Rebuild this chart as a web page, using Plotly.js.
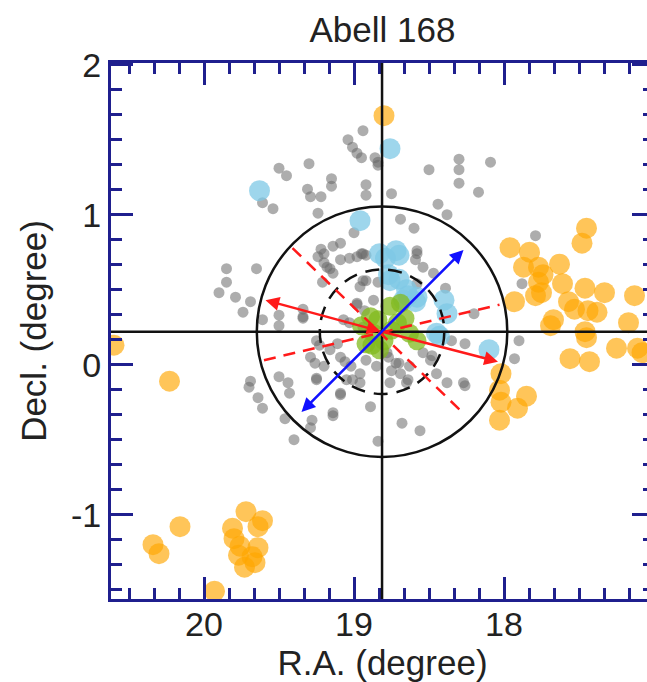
<!DOCTYPE html>
<html>
<head>
<meta charset="utf-8">
<script src="https://cdn.plot.ly/plotly-3.0.1.min.js"></script>
<style>
html,body{margin:0;padding:0;overflow:hidden;background:#fff;}
#chart{width:660px;height:682px;}
</style>
</head>
<body>
<div id="chart"></div>
<script>
// ---- data (R.A., Decl. in degrees) ----
const greyRA = [18.94,19.04,19.01,18.98,18.95,18.86,18.84,19.30,19.50,19.45,19.15,19.15,19.31,19.29,19.22,18.92,18.92,19.61,19.54,19.24,
  19.00,19.09,19.22,19.24,19.20,19.16,19.14,18.95,18.92,19.03,19.85,19.85,19.90,19.79,19.65,19.21,18.94,18.84,19.74,19.69,
  19.61,19.50,19.50,19.34,19.34,18.98,18.93,18.84,18.50,18.30,18.30,18.30,18.09,18.17,18.75,18.44,18.38,18.69,18.60,18.58,
  18.59,17.79,17.88,18.39,18.20,18.26,18.68,18.56,17.93,17.90,18.84,18.75,18.64,18.77,18.70,18.48,18.35,18.26,19.69,19.70,
  19.64,19.61,19.50,19.44,19.43,19.29,19.26,19.25,19.23,19.09,19.14,19.28,19.29,19.46,19.40,19.06,19.02,19.11,19.01,18.96,
  19.20,19.14,19.09,19.18,18.98,18.94,18.92,18.96,18.98,18.87,18.58,18.54,18.58,18.47,19.07,19.03,18.94,19.34,19.25,19.16,
  19.09,19.20,19.25,19.09,19.05,18.96,18.92,18.85,18.78,18.72,18.69,18.76,18.65,18.63,18.54,18.49,18.45,18.38,18.27,19.14,18.89];
const greyDec = [1.56,1.50,1.45,1.41,1.38,1.38,1.33,1.34,1.31,1.26,1.24,1.19,1.17,1.12,1.12,1.20,1.13,1.08,1.04,1.01,
  0.88,0.81,0.77,0.72,0.68,0.64,0.61,0.74,0.73,0.71,0.64,0.55,0.48,0.45,0.64,0.55,0.56,0.55,0.35,0.42,
  0.30,0.33,0.26,0.37,0.31,0.40,0.36,1.35,1.30,1.37,1.30,1.21,1.35,1.15,1.14,1.07,1.00,0.97,0.91,0.76,
  0.70,0.86,0.54,0.51,0.34,-0.14,-0.39,-0.44,0.04,0.16,-0.51,-0.04,-0.10,0.05,0.01,0.06,0.16,0.14,-0.11,-0.15,
  -0.22,-0.29,-0.08,-0.12,-0.19,0.05,0.01,-0.09,0.13,-0.20,-0.34,-0.37,-0.42,-0.36,-0.50,0.02,-0.01,0.14,-0.10,-0.12,
  0.74,0.79,0.70,0.65,0.72,0.74,0.56,0.52,0.41,0.43,0.74,0.65,0.54,0.61,0.30,0.28,0.25,0.32,0.16,0.10,
  0.05,-0.01,-0.10,-0.19,-0.10,-0.06,0.03,-0.01,0.08,0.01,-0.06,-0.12,-0.12,-0.01,0.08,0.03,-0.06,-0.12,-0.12,-0.32,-0.28];

const blueRA  = [19.63,18.96,18.76,18.79,18.70,18.70,18.77,18.64,18.59,18.40,18.10,18.45,18.83,18.72,18.76,18.65,18.58,18.38,18.43,18.67];
const blueDec = [1.16,0.96,1.44,0.71,0.73,0.57,0.60,0.46,0.42,0.43,0.10,0.21,0.74,0.76,0.56,0.50,0.45,0.34,0.19,0.43];

const greenRA  = [18.89,18.87,18.92,18.76,18.69,18.71,18.63,18.58,18.80,18.83,18.95,18.84,18.75,18.66,18.88];
const greenDec = [0.32,0.21,0.14,0.39,0.41,0.28,0.21,0.16,0.16,0.10,0.26,0.30,0.23,0.31,0.13];

const orangeRA  = [18.80,17.96,17.83,17.87,17.77,17.74,17.77,17.75,17.63,17.61,17.45,17.48,17.93,17.79,17.46,17.33,17.13,17.57,17.53,17.44,
  17.38,17.67,17.17,17.45,17.56,17.43,17.25,17.11,17.08,18.02,18.03,18.02,17.85,17.91,18.03,20.60,20.23,20.16,20.34,20.30,
  19.72,19.61,19.64,19.81,19.80,19.76,19.77,19.73,19.66,19.64,19.68,19.93,17.69,17.46];
const orangeDec = [1.66,0.78,0.75,0.65,0.65,0.60,0.55,0.48,0.67,0.54,0.91,0.81,0.42,0.46,0.51,0.48,0.46,0.42,0.37,0.36,
  0.35,0.30,0.28,0.18,0.04,0.02,0.11,0.11,0.08,-0.06,-0.17,-0.25,-0.21,-0.29,-0.37,0.13,-0.11,-1.08,-1.20,-1.26,
  -0.98,-1.04,-1.08,-1.09,-1.16,-1.21,-1.27,-1.35,-1.32,-1.22,-1.28,-1.51,0.26,0.22];

// cluster centre, radii, axes
const centerRA = 18.813, centerDec = 0.22;
const outerRadius = 0.835, innerRadius = 0.415;
const blueAxis = {ra:[18.27,19.36], dec:[0.765,-0.325]};
const redAxis  = {ra:[19.59,18.04], dec:[0.43,0.02]};
const redDashA = {ra:[19.41,18.28], dec:[0.777,-0.315]};
const redDashB = {ra:[19.60,18.03], dec:[0.03,0.40]};

const xRange = [20.62, 17.0];
const yRange = [-1.562, 2.011];
const xTicks = [20,19,18];
const yTicks = [-1,0,1,2];

// ---- styling ----
const navy = '#1f1f8e';
const FONT = 'Liberation Sans, Arial, Helvetica, sans-serif';
const txt = '#222';

function pts(ra, dec, color, size, op){
  return {type:'scatter', mode:'markers', x:ra, y:dec, hoverinfo:'skip', showlegend:false,
    marker:{color:color, size:size, opacity:op, line:{width:0}}};
}
const traces = [
  pts(greyRA, greyDec, 'rgb(105,105,105)', 11, 0.55),
  pts(blueRA, blueDec, 'rgb(125,200,230)', 21, 0.75),
  pts(greenRA, greenDec, 'rgb(130,185,30)', 19, 0.75),
  pts(orangeRA, orangeDec, 'rgb(255,166,0)', 21, 0.65)
];

const shapes = [
  {type:'line', xref:'paper', yref:'y', x0:0, x1:1, y0:centerDec, y1:centerDec, line:{color:'#111', width:2.5}, layer:'above'},
  {type:'line', xref:'x', yref:'paper', x0:centerRA, x1:centerRA, y0:0, y1:1, line:{color:'#111', width:2.5}, layer:'above'},
  {type:'circle', xref:'x', yref:'y', x0:centerRA-outerRadius, x1:centerRA+outerRadius, y0:centerDec-outerRadius, y1:centerDec+outerRadius, line:{color:'#111', width:2.5}, layer:'above'},
  {type:'circle', xref:'x', yref:'y', x0:centerRA-innerRadius, x1:centerRA+innerRadius, y0:centerDec-innerRadius, y1:centerDec+innerRadius, line:{color:'#111', width:2.5, dash:'14px,9px'}, layer:'above'},
  {type:'line', xref:'x', yref:'y', x0:redDashA.ra[0], x1:redDashA.ra[1], y0:redDashA.dec[0], y1:redDashA.dec[1], line:{color:'#ff1a1a', width:2.5, dash:'12px,8px'}, layer:'above'},
  {type:'line', xref:'x', yref:'y', x0:redDashB.ra[0], x1:redDashB.ra[1], y0:redDashB.dec[0], y1:redDashB.dec[1], line:{color:'#ff1a1a', width:2.5, dash:'12px,8px'}, layer:'above'}
];

function arrow(xh, yh, xt, yt, color, side){
  return {x:xh, y:yh, ax:xt, ay:yt, xref:'x', yref:'y', axref:'x', ayref:'y', text:'', showarrow:true,
    arrowhead:2, arrowsize:1.1, arrowwidth:2.5, arrowcolor:color, arrowside:side, standoff:0, startstandoff:0};
}
const annotations = [
  arrow(blueAxis.ra[0], blueAxis.dec[0], blueAxis.ra[1], blueAxis.dec[1], '#1010ff', 'end+start'),
  arrow(redAxis.ra[0], redAxis.dec[0], centerRA, centerDec, '#ff1a1a', 'end+start'),
  arrow(redAxis.ra[1], redAxis.dec[1], centerRA, centerDec, '#ff1a1a', 'end')
];

const axisCommon = {
  showgrid:false, zeroline:false, showline:true, linecolor:navy, linewidth:3, mirror:'ticks',
  ticks:'inside', ticklen:22, tickwidth:3, tickcolor:navy,
  minor:{dtick:1/6, ticks:'inside', ticklen:11, tickwidth:3, tickcolor:navy, showgrid:false},
  tickfont:{family:FONT, size:34, color:txt}, automargin:false
};

const layout = {
  width:660, height:682,
  margin:{l:111, r:6, t:63, b:83, pad:0},
  paper_bgcolor:'#fff', plot_bgcolor:'#fff',
  font:{family:FONT, color:txt},
  title:{text:'Abell 168', font:{family:FONT, size:35, color:txt}, x:0.5, xref:'paper', y:1-30/682, yref:'container', yanchor:'middle'},
  xaxis:Object.assign({}, axisCommon, {range:xRange, tickmode:'array', tickvals:xTicks, ticktext:xTicks.map(String),
    ticklabelstandoff:-7,
    title:{text:'R.A. (degree)', font:{family:FONT, size:35, color:txt}, standoff:6}}),
  yaxis:Object.assign({}, axisCommon, {range:yRange, tickmode:'array', tickvals:yTicks, ticktext:yTicks.map(String),
    title:{text:'Decl. (degree)', font:{family:FONT, size:35, color:txt}, standoff:14}}),
  shapes:shapes, annotations:annotations
};

Plotly.newPlot('chart', traces, layout, {displayModeBar:false, staticPlot:true});
</script>
</body>
</html>
